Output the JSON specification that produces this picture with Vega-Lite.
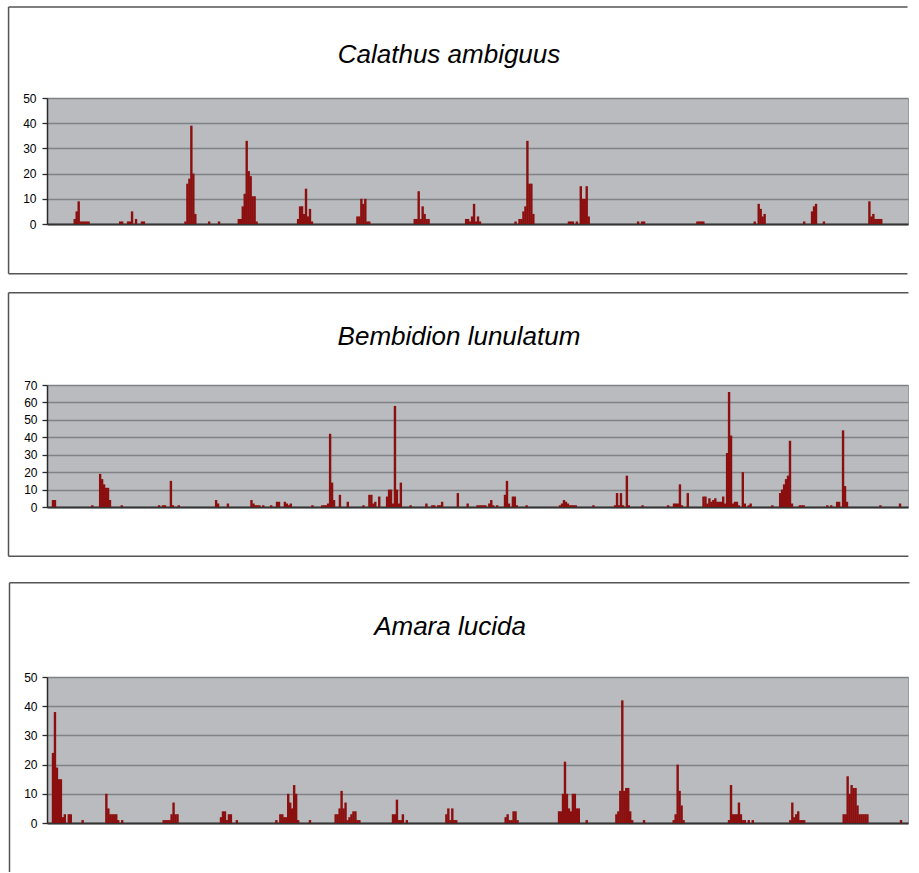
{
  "$schema": "https://vega.github.io/schema/vega-lite/v6.json",
  "padding": {"left": 7, "top": 5, "right": 0, "bottom": 0},
  "background": "white",
  "config": {
    "view": {"fill": "#b9bbbe", "stroke": "#9a9b9e", "strokeWidth": 1},
    "axisY": {"grid": true, "gridColor": "#808286", "gridWidth": 1.7, "domainColor": "#2a2a2a", "domainWidth": 1.5, "tickColor": "#2a2a2a", "tickSize": 5, "tickWidth": 1.3, "labelFont": "Liberation Sans", "labelFontSize": 12, "labelColor": "#000000"},
    "axisX": {"domain": true, "domainColor": "#333333", "domainWidth": 2, "ticks": false, "labels": false, "grid": false},
    "title": {"font": "Liberation Sans", "fontSize": 26, "fontStyle": "italic", "fontWeight": "normal", "color": "#000000", "anchor": "middle", "frame": "group", "baseline": "alphabetic"},
    "bar": {"color": "#8c0f0f"},
    "rule": {"color": "#555555", "strokeWidth": 1.5}
  },
  "datasets": {
    "p1": [{"i":11,"v":2},{"i":12,"v":5},{"i":13,"v":9},{"i":14,"v":1},{"i":15,"v":1},{"i":16,"v":1},{"i":17,"v":1},{"i":18,"v":1},
      {"i":34,"v":1},{"i":35,"v":1},{"i":38,"v":1},{"i":39,"v":1},{"i":40,"v":5},{"i":42,"v":2},{"i":45,"v":1},{"i":46,"v":1},
      {"i":67,"v":1},{"i":68,"v":16},{"i":69,"v":18},{"i":70,"v":39},{"i":71,"v":20},{"i":72,"v":4},
      {"i":79,"v":1},{"i":84,"v":1},
      {"i":94,"v":2},{"i":95,"v":2},{"i":96,"v":7},{"i":97,"v":12},{"i":98,"v":33},{"i":99,"v":21},{"i":100,"v":19},{"i":101,"v":11},{"i":102,"v":11},{"i":103,"v":1},
      {"i":124,"v":2},{"i":125,"v":7},{"i":126,"v":7},{"i":127,"v":4},{"i":128,"v":14},{"i":129,"v":3},{"i":130,"v":6},{"i":131,"v":1},
      {"i":154,"v":3},{"i":155,"v":3},{"i":156,"v":10},{"i":157,"v":8},{"i":158,"v":10},{"i":159,"v":1},{"i":160,"v":1},
      {"i":183,"v":2},{"i":184,"v":2},{"i":185,"v":13},{"i":186,"v":2},{"i":187,"v":7},{"i":188,"v":4},{"i":189,"v":2},{"i":190,"v":2},
      {"i":209,"v":2},{"i":210,"v":2},{"i":211,"v":1},{"i":212,"v":3},{"i":213,"v":8},{"i":214,"v":1},{"i":215,"v":3},{"i":216,"v":1},
      {"i":234,"v":1},{"i":236,"v":2},{"i":237,"v":2},{"i":238,"v":5},{"i":239,"v":7},{"i":240,"v":33},{"i":241,"v":16},{"i":242,"v":16},{"i":243,"v":4},
      {"i":261,"v":1},{"i":262,"v":1},{"i":263,"v":1},{"i":265,"v":1},{"i":267,"v":15},{"i":268,"v":10},{"i":269,"v":10},{"i":270,"v":15},{"i":271,"v":3},
      {"i":296,"v":1},{"i":298,"v":1},{"i":299,"v":1},
      {"i":326,"v":1},{"i":327,"v":1},{"i":328,"v":1},{"i":329,"v":1},
      {"i":355,"v":1},{"i":357,"v":8},{"i":358,"v":6},{"i":359,"v":3},{"i":360,"v":4},
      {"i":380,"v":1},{"i":384,"v":5},{"i":385,"v":7},{"i":386,"v":8},{"i":390,"v":1},
      {"i":413,"v":9},{"i":414,"v":3},{"i":415,"v":4},{"i":416,"v":2},{"i":417,"v":2},{"i":418,"v":2},{"i":419,"v":2}],
    "p2": [{"i":0,"v":4},{"i":1,"v":4},{"i":20,"v":1},
      {"i":24,"v":19},{"i":25,"v":16},{"i":26,"v":13},{"i":27,"v":11},{"i":28,"v":11},{"i":29,"v":4},
      {"i":35,"v":1},{"i":54,"v":1},{"i":56,"v":1},{"i":57,"v":1},{"i":60,"v":15},{"i":61,"v":1},{"i":64,"v":1},
      {"i":83,"v":4},{"i":84,"v":2},{"i":89,"v":2},
      {"i":101,"v":4},{"i":102,"v":2},{"i":103,"v":1},{"i":104,"v":1},{"i":105,"v":1},
      {"i":107,"v":1},{"i":111,"v":1},{"i":114,"v":3},{"i":115,"v":3},{"i":118,"v":3},{"i":119,"v":2},{"i":120,"v":1},{"i":121,"v":2},
      {"i":132,"v":1},
      {"i":137,"v":1},{"i":138,"v":1},{"i":139,"v":1},{"i":140,"v":2},{"i":141,"v":42},{"i":142,"v":14},{"i":143,"v":4},{"i":146,"v":7},
      {"i":150,"v":3},
      {"i":158,"v":1},{"i":161,"v":7},{"i":162,"v":7},{"i":163,"v":2},{"i":164,"v":3},{"i":166,"v":6},
      {"i":170,"v":6},{"i":171,"v":10},{"i":172,"v":10},{"i":173,"v":2},{"i":174,"v":58},{"i":175,"v":10},{"i":176,"v":2},{"i":177,"v":14},
      {"i":182,"v":1},{"i":190,"v":2},{"i":193,"v":1},{"i":194,"v":1},{"i":196,"v":1},{"i":197,"v":1},{"i":198,"v":3},
      {"i":206,"v":8},{"i":211,"v":2},{"i":216,"v":1},{"i":217,"v":1},{"i":218,"v":1},{"i":219,"v":1},{"i":220,"v":1},
      {"i":222,"v":2},{"i":223,"v":4},{"i":224,"v":1},{"i":226,"v":1},
      {"i":230,"v":7},{"i":231,"v":15},{"i":232,"v":2},{"i":234,"v":6},{"i":235,"v":6},{"i":236,"v":1},
      {"i":241,"v":1},
      {"i":258,"v":1},{"i":259,"v":2},{"i":260,"v":4},{"i":261,"v":3},{"i":262,"v":2},{"i":263,"v":1},{"i":264,"v":1},{"i":265,"v":1},{"i":266,"v":1},
      {"i":275,"v":1},
      {"i":286,"v":1},{"i":287,"v":8},{"i":288,"v":1},{"i":289,"v":8},{"i":290,"v":1},{"i":292,"v":18},{"i":293,"v":1},
      {"i":300,"v":1},
      {"i":313,"v":1},{"i":316,"v":2},{"i":317,"v":2},{"i":318,"v":2},{"i":319,"v":13},{"i":320,"v":1},{"i":323,"v":8},
      {"i":331,"v":6},{"i":332,"v":6},{"i":333,"v":2},{"i":334,"v":5},{"i":335,"v":3},{"i":336,"v":4},{"i":337,"v":5},{"i":338,"v":3},{"i":339,"v":3},{"i":340,"v":3},{"i":341,"v":6},{"i":342,"v":2},{"i":343,"v":31},{"i":344,"v":66},{"i":345,"v":41},{"i":346,"v":2},{"i":347,"v":3},{"i":348,"v":3},{"i":349,"v":1},{"i":351,"v":20},{"i":352,"v":2},{"i":354,"v":1},{"i":355,"v":2},
      {"i":366,"v":1},
      {"i":370,"v":8},{"i":371,"v":10},{"i":372,"v":13},{"i":373,"v":16},{"i":374,"v":18},{"i":375,"v":38},{"i":376,"v":2},
      {"i":380,"v":1},{"i":381,"v":1},{"i":382,"v":1},
      {"i":394,"v":1},{"i":396,"v":1},{"i":399,"v":3},{"i":400,"v":3},{"i":402,"v":44},{"i":403,"v":12},{"i":404,"v":3},
      {"i":421,"v":1},{"i":431,"v":2}],
    "p3": [{"i":0,"v":24},{"i":1,"v":38},{"i":2,"v":19},{"i":3,"v":15},{"i":4,"v":15},{"i":5,"v":2},
      {"i":6,"v":3},{"i":8,"v":3},{"i":9,"v":3},{"i":15,"v":1},
      {"i":27,"v":10},{"i":28,"v":5},{"i":29,"v":3},{"i":30,"v":3},{"i":31,"v":3},{"i":32,"v":3},{"i":33,"v":1},{"i":35,"v":1},
      {"i":56,"v":1},{"i":57,"v":1},{"i":58,"v":1},{"i":59,"v":1},{"i":60,"v":3},{"i":61,"v":7},{"i":62,"v":3},{"i":63,"v":3},
      {"i":85,"v":2},{"i":86,"v":4},{"i":87,"v":4},{"i":88,"v":1},{"i":89,"v":3},{"i":90,"v":3},{"i":93,"v":1},
      {"i":113,"v":1},{"i":115,"v":3},{"i":116,"v":3},{"i":117,"v":2},{"i":118,"v":2},{"i":119,"v":10},{"i":120,"v":7},{"i":121,"v":5},{"i":122,"v":13},{"i":123,"v":10},{"i":124,"v":1},{"i":130,"v":1},
      {"i":143,"v":3},{"i":144,"v":3},{"i":145,"v":5},{"i":146,"v":11},{"i":147,"v":5},{"i":148,"v":7},{"i":149,"v":1},{"i":150,"v":2},{"i":151,"v":3},{"i":152,"v":4},{"i":153,"v":4},{"i":154,"v":1},{"i":155,"v":1},
      {"i":172,"v":3},{"i":173,"v":3},{"i":174,"v":8},{"i":175,"v":1},{"i":176,"v":1},{"i":177,"v":3},{"i":179,"v":1},
      {"i":199,"v":3},{"i":200,"v":5},{"i":201,"v":1},{"i":202,"v":5},{"i":203,"v":1},{"i":204,"v":1},
      {"i":229,"v":2},{"i":230,"v":3},{"i":231,"v":1},{"i":232,"v":1},{"i":233,"v":4},{"i":234,"v":4},{"i":235,"v":1},
      {"i":256,"v":4},{"i":257,"v":4},{"i":258,"v":10},{"i":259,"v":21},{"i":260,"v":10},{"i":261,"v":5},{"i":262,"v":4},{"i":263,"v":10},{"i":264,"v":10},{"i":265,"v":5},{"i":266,"v":5},{"i":270,"v":1},
      {"i":285,"v":3},{"i":286,"v":4},{"i":287,"v":11},{"i":288,"v":42},{"i":289,"v":11},{"i":290,"v":12},{"i":291,"v":12},{"i":292,"v":4},{"i":293,"v":1},{"i":299,"v":1},
      {"i":314,"v":1},{"i":315,"v":3},{"i":316,"v":20},{"i":317,"v":11},{"i":318,"v":6},{"i":319,"v":1},
      {"i":342,"v":1},{"i":343,"v":13},{"i":344,"v":3},{"i":345,"v":3},{"i":346,"v":3},{"i":347,"v":7},{"i":348,"v":3},{"i":349,"v":1},{"i":350,"v":1},{"i":352,"v":1},{"i":354,"v":1},
      {"i":373,"v":1},{"i":374,"v":7},{"i":375,"v":2},{"i":376,"v":3},{"i":377,"v":4},{"i":378,"v":1},{"i":379,"v":1},{"i":380,"v":1},
      {"i":400,"v":3},{"i":401,"v":3},{"i":402,"v":16},{"i":403,"v":10},{"i":404,"v":13},{"i":405,"v":12},{"i":406,"v":12},{"i":407,"v":6},{"i":408,"v":3},{"i":409,"v":3},{"i":410,"v":3},{"i":411,"v":3},{"i":412,"v":3},
      {"i":429,"v":1}]
  },
  "spacing": 23,
  "vconcat": [
    {
      "spacing": 16,
      "vconcat": [
        {
          "width": 861, "height": 126,
          "title": {"text": "Calathus ambiguus", "dx": -28.5, "offset": -62},
          "layer": [
            {"data": {"name": "p1"}, "mark": {"type": "bar", "width": 2.4},
             "encoding": {
               "x": {"field": "i", "type": "quantitative", "scale": {"domain": [-0.5, 430], "nice": false, "zero": false}, "axis": {"title": null}},
               "y": {"field": "v", "type": "quantitative", "scale": {"domain": [0, 50], "nice": false}, "axis": {"title": null, "values": [0, 10, 20, 30, 40, 50], "labelPadding": 6}}}},
            {"data": {"values": [{}]}, "mark": "rule", "encoding": {"x": {"datum": -22.47, "axis": {"title": null}}, "x2": {"datum": 432.27}, "y": {"datum": 86.1, "axis": {"title": null, "values": [0, 10, 20, 30, 40, 50], "labelPadding": 6}}}},
            {"data": {"values": [{}]}, "mark": "rule", "encoding": {"x": {"datum": -22.47, "axis": {"title": null}}, "x2": {"datum": 432.27}, "y": {"datum": -19.7, "axis": {"title": null, "values": [0, 10, 20, 30, 40, 50], "labelPadding": 6}}}},
            {"data": {"values": [{}]}, "mark": "rule", "encoding": {"x": {"datum": -22.47, "axis": {"title": null}}, "y": {"datum": -19.7, "axis": {"title": null, "values": [0, 10, 20, 30, 40, 50], "labelPadding": 6}}, "y2": {"datum": 86.1}}}
          ]
        },
        {
          "width": 861, "height": 122,
          "title": {"text": "Bembidion lunulatum", "dx": -18.5, "offset": -58},
          "layer": [
            {"data": {"name": "p2"}, "mark": {"type": "bar", "width": 2.4},
             "encoding": {
               "x": {"field": "i", "type": "quantitative", "scale": {"domain": [-0.5, 432.5], "nice": false, "zero": false}, "axis": {"title": null}},
               "y": {"field": "v", "type": "quantitative", "scale": {"domain": [0, 70], "nice": false}, "axis": {"title": null, "values": [0, 10, 20, 30, 40, 50, 60, 70], "labelPadding": 5}}}},
            {"data": {"values": [{}]}, "mark": "rule", "encoding": {"x": {"datum": -22.63, "axis": {"title": null}}, "x2": {"datum": 435.27}, "y": {"datum": 123, "axis": {"title": null, "values": [0, 10, 20, 30, 40, 50, 60, 70], "labelPadding": 5}}}},
            {"data": {"values": [{}]}, "mark": "rule", "encoding": {"x": {"datum": -22.63, "axis": {"title": null}}, "x2": {"datum": 435.27}, "y": {"datum": -28.3, "axis": {"title": null, "values": [0, 10, 20, 30, 40, 50, 60, 70], "labelPadding": 5}}}},
            {"data": {"values": [{}]}, "mark": "rule", "encoding": {"x": {"datum": -22.63, "axis": {"title": null}}, "y": {"datum": -28.3, "axis": {"title": null, "values": [0, 10, 20, 30, 40, 50, 60, 70], "labelPadding": 5}}, "y2": {"datum": 123}}}
          ]
        }
      ]
    },
    {
      "width": 861, "height": 146,
      "title": {"text": "Amara lucida", "dx": -27.5, "offset": -58.5},
      "layer": [
        {"data": {"name": "p3"}, "mark": {"type": "bar", "width": 2.4},
         "encoding": {
           "x": {"field": "i", "type": "quantitative", "scale": {"domain": [-0.5, 430], "nice": false, "zero": false}, "axis": {"title": null}},
           "y": {"field": "v", "type": "quantitative", "scale": {"domain": [0, 50], "nice": false}, "axis": {"title": null, "values": [0, 10, 20, 30, 40, 50], "labelPadding": 5}}}},
        {"data": {"values": [{}]}, "mark": "rule", "encoding": {"x": {"datum": -22, "axis": {"title": null}}, "x2": {"datum": 433.25}, "y": {"datum": 82.3, "axis": {"title": null, "values": [0, 10, 20, 30, 40, 50], "labelPadding": 5}}}},
        {"data": {"values": [{}]}, "mark": "rule", "encoding": {"x": {"datum": -22, "axis": {"title": null}}, "y": {"datum": -16.8, "axis": {"title": null, "values": [0, 10, 20, 30, 40, 50], "labelPadding": 5}}, "y2": {"datum": 82.3}}}
      ]
    }
  ]
}
